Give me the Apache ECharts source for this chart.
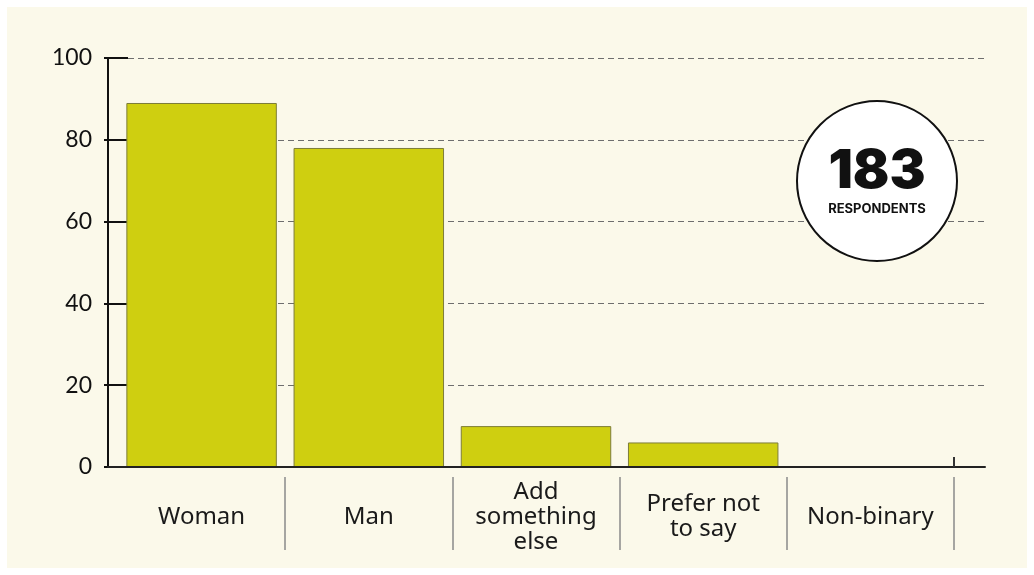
<!DOCTYPE html>
<html>
<head>
<meta charset="utf-8">
<script src="https://cdn.jsdelivr.net/npm/echarts@6/dist/echarts.min.js"></script>
<style>
  html, body { margin: 0; padding: 0; background: #ffffff; }
  #chart { width: 1034px; height: 575px; background: #FBF9EA; box-shadow: inset 0 0 0 7px #ffffff; }
</style>
</head>
<body>
<div id="chart"></div>
<script>
const categories = ['Woman', 'Man', 'Add\nsomething\nelse', 'Prefer not\nto say', 'Non-binary'];
const values = [89, 78, 10, 6, 0];
const yTicks = [0, 20, 40, 60, 80, 100];
const badgeLabel = 'RESPONDENTS';
const respondents = values.reduce((a, b) => a + b, 0);

const chart = echarts.init(document.getElementById('chart'), null, { renderer: 'canvas' });

const yMin = yTicks[0], yMax = yTicks[yTicks.length - 1], yStep = yTicks[1] - yTicks[0];

const option = {
  animation: false,
  grid: [
    { left: 108, right: 49, top: 58, bottom: 108 },
    { left: 118, right: 80, top: 58, bottom: 108 },
    { left: 118, right: 80, top: 477, bottom: 25 }
  ],
  xAxis: [
    {
      gridIndex: 0, type: 'value', min: 0, max: 1, z: 5,
      axisLine: { show: true, lineStyle: { color: '#222', width: 2 } },
      axisTick: { show: false }, axisLabel: { show: false }, splitLine: { show: false }
    },
    {
      gridIndex: 1, type: 'category', data: categories,
      axisLine: { show: false },
      axisTick: { show: false },
      axisLabel: {
        interval: 0, margin: 50, verticalAlign: 'middle',
        fontFamily: 'Noto Sans', fontSize: 24, color: '#1a1a1a', lineHeight: 25
      }
    },
    {
      gridIndex: 2, type: 'category', data: categories, position: 'top',
      axisLine: { show: false, onZero: false },
      axisTick: {
        show: true, inside: true, length: 73,
        interval: function (index) { return index > 0; },
        lineStyle: { color: '#8a8a8a', width: 1.5 }
      },
      axisLabel: { show: false }
    }
  ],
  yAxis: [
    {
      gridIndex: 0, type: 'value', min: yMin, max: yMax, interval: yStep, position: 'left',
      axisLine: { show: true, lineStyle: { color: '#111', width: 2 } },
      axisTick: { show: true, length: 4, lineStyle: { color: '#111', width: 2 } },
      axisLabel: { margin: 16, fontFamily: 'Lato', fontSize: 23, color: '#111' },
      splitLine: { show: true, lineStyle: { color: '#6e6e6e', width: 1, type: [6, 4] } }
    },
    {
      gridIndex: 0, type: 'value', min: yMin, max: yMax, interval: yStep, position: 'left',
      axisLine: { show: false },
      axisTick: { show: true, inside: true, length: 20, lineStyle: { color: '#111', width: 2 } },
      axisLabel: { show: false }, splitLine: { show: false }
    },
    {
      gridIndex: 1, type: 'value', min: yMin, max: yMax, interval: yStep, show: false
    },
    {
      gridIndex: 2, type: 'value', min: 0, max: 1, show: false
    }
  ],
  series: [
    {
      type: 'bar', xAxisIndex: 1, yAxisIndex: 2,
      data: values, barCategoryGap: '10%',
      itemStyle: { color: '#CFCF10', borderColor: '#7d7d3a', borderWidth: 1 },
      z: 3
    }
  ],
  graphic: [
    { type: 'line', shape: { x1: 954, y1: 457, x2: 954, y2: 467 }, style: { stroke: '#333', lineWidth: 2 }, z: 10 },
    { type: 'circle', shape: { cx: 877, cy: 181, r: 80 }, style: { fill: '#ffffff', stroke: '#111', lineWidth: 2 }, z: 20 },
    { type: 'text', x: 877, y: 172, style: { text: String(respondents), font: '900 54px Inter', fill: '#111', align: 'center', verticalAlign: 'middle' }, z: 21 },
    { type: 'text', x: 877, y: 209, style: { text: badgeLabel, font: '700 13px Inter', fill: '#111', align: 'center', verticalAlign: 'middle' }, z: 21 }
  ]
};
chart.setOption(option);
</script>
</body>
</html>
